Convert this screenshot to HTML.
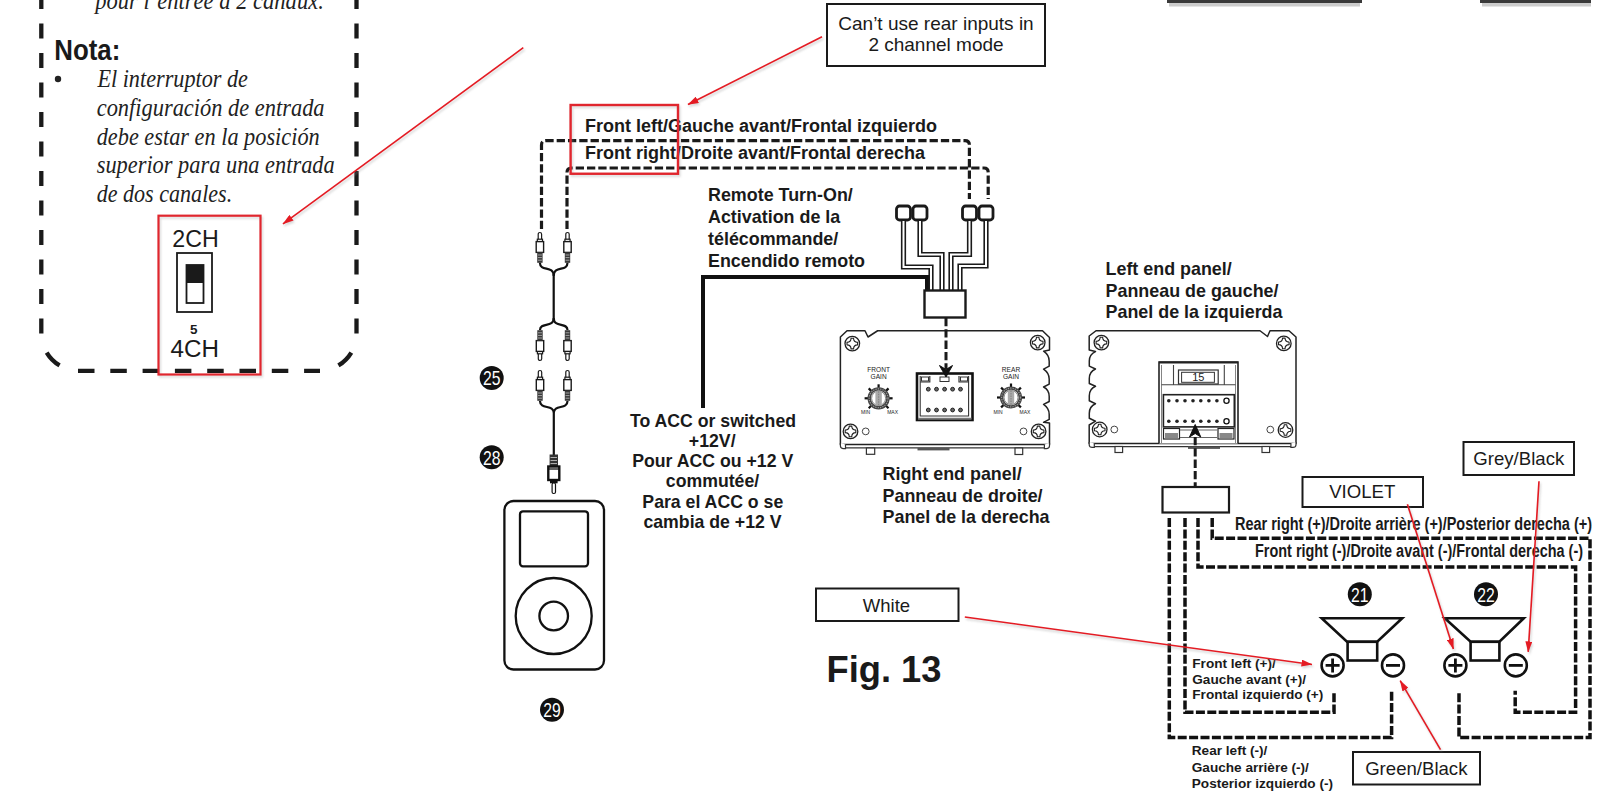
<!DOCTYPE html>
<html><head><meta charset="utf-8">
<style>
html,body{margin:0;padding:0;background:#fff;width:1600px;height:807px;overflow:hidden}
svg{display:block}
text{font-family:"Liberation Sans",sans-serif}
.b,.b text{font-weight:bold}
.si,.si text{font-family:"Liberation Serif",serif;font-style:italic}
</style></head><body>
<svg width="1600" height="807" viewBox="0 0 1600 807">
<defs>
<marker id="ah" viewBox="0 0 11 7" refX="10.5" refY="3.5" markerWidth="11" markerHeight="7" markerUnits="userSpaceOnUse" orient="auto"><path d="M0,0 L11,3.5 L0,7 z" fill="#e41b23"/></marker>
<marker id="ahs" viewBox="0 0 11 7" refX="10.5" refY="3.5" markerWidth="11" markerHeight="7" markerUnits="userSpaceOnUse" orient="auto"><path d="M0,0 L11,3.5 L0,7 z" fill="#aaa"/></marker>
<filter id="blur" x="-5%" y="-5%" width="110%" height="110%"><feGaussianBlur stdDeviation="1"/></filter>

</defs>
<rect width="1600" height="807" fill="#fff"/>

<!-- top-right cut bars -->
<rect x="1167" y="0" width="195" height="3" fill="#3a3a3a"/>
<rect x="1169" y="3" width="191" height="3.5" fill="#ccc"/>
<rect x="1480" y="0" width="111" height="3" fill="#3a3a3a"/>
<rect x="1482" y="3" width="109" height="3.5" fill="#ccc"/>

<!-- LEFT NOTE BOX -->
<g fill="none" stroke="#1a1a1a" stroke-width="4.3"><path d="M41.3,-6 L41.3,333.6 M356.5,-6 L356.5,333.6" stroke-dasharray="15 14.5"/><path d="M46.68,352.52 A37.7,37.7 0 0 0 59.58,365.42"/><path d="M351.32,352.52 A37.7,37.7 0 0 1 338.42,365.42"/><path d="M78,370.8 L320,370.8" stroke-dasharray="16.5 15.8"/></g>
<g class="si" font-size="26" fill="#222">
<text x="95.3" y="8.5" textLength="228.5" lengthAdjust="spacingAndGlyphs">pour l’entrée à 2 canaux.</text>
<text x="97.4" y="86.8" textLength="150.6" lengthAdjust="spacingAndGlyphs">El interruptor de</text>
<text x="96.7" y="115.5" textLength="227.9" lengthAdjust="spacingAndGlyphs">configuración de entrada</text>
<text x="96.7" y="144.5" textLength="223" lengthAdjust="spacingAndGlyphs">debe estar en la posición</text>
<text x="96.7" y="173" textLength="238" lengthAdjust="spacingAndGlyphs">superior para una entrada</text>
<text x="96.7" y="202" textLength="135.5" lengthAdjust="spacingAndGlyphs">de dos canales.</text>
</g>
<text class="b" x="54.3" y="59.7" font-size="28.7" textLength="66" lengthAdjust="spacingAndGlyphs" fill="#1a1a1a">Nota:</text>
<circle cx="58" cy="79" r="3.2" fill="#222"/>

<!-- 2CH switch -->
<text x="172.3" y="246.5" font-size="23.2" fill="#1a1a1a">2CH</text>
<rect x="177" y="253" width="35" height="59" fill="none" stroke="#1a1a1a" stroke-width="1.8"/>
<rect x="186.5" y="265" width="17" height="38" fill="none" stroke="#1a1a1a" stroke-width="1.8"/>
<rect x="186.5" y="265" width="17" height="18" fill="#1a1a1a"/>
<text class="b" x="190" y="333.5" font-size="13.5" fill="#1a1a1a">5</text>
<text x="170.5" y="357" font-size="24.2" fill="#1a1a1a">4CH</text>
<rect x="160" y="217.7" width="102" height="158.8" fill="none" stroke="#999" stroke-width="2.2" opacity="0.35" filter="url(#blur)"/>
<rect x="158.5" y="215.7" width="102" height="158.8" fill="none" stroke="#e0262e" stroke-width="2.2"/>

<!-- CALLOUT top -->
<rect x="827" y="4" width="218" height="62" fill="none" stroke="#1a1a1a" stroke-width="2"/>
<g font-size="19" fill="#1a1a1a" text-anchor="middle">
<text x="936" y="29.7">Can’t use rear inputs in</text>
<text x="936" y="51">2 channel mode</text>
</g>

<!-- front labels -->
<g class="b" font-size="18" fill="#1a1a1a">
<text x="585" y="131.9">Front left/Gauche avant/Frontal izquierdo</text>
<text x="585" y="159.4">Front right/Droite avant/Frontal derecha</text>
</g>
<g fill="none" stroke="#1a1a1a" stroke-width="3.2" stroke-dasharray="8.3 3">
<path d="M541.5,229 L541.5,145 Q541.5,140.6 546,140.6 L965,140.6 Q969.4,140.6 969.4,145 L969.4,199"/>
<path d="M567,229 L567,172.5 Q567,168 571.5,168 L984,168 Q988.2,168 988.2,172.5 L988.2,199"/>
</g>
<rect x="572" y="107" width="107.4" height="68.75" fill="none" stroke="#999" stroke-width="2.4" opacity="0.35" filter="url(#blur)"/>
<rect x="570.6" y="105" width="107.4" height="68.75" fill="none" stroke="#e0262e" stroke-width="2.4"/>

<!-- remote label -->
<g class="b" font-size="17.9" fill="#1a1a1a">
<text x="708" y="201.25">Remote Turn-On/</text>
<text x="708" y="223">Activation de la</text>
<text x="708" y="245">télécommande/</text>
<text x="708" y="267">Encendido remoto</text>
</g>
<path d="M703,408 L703,277 L927,277 L927,291" fill="none" stroke="#111" stroke-width="4"/>

<!-- harness squares -->
<g fill="#fff" stroke="#1a1a1a" stroke-width="2.8">
<rect x="896.5" y="206" width="14" height="14" rx="3"/>
<rect x="913" y="206" width="14" height="14" rx="3"/>
<rect x="962.5" y="206" width="14" height="14" rx="3"/>
<rect x="979" y="206" width="14" height="14" rx="3"/>
</g>
<g fill="none" stroke="#1a1a1a" stroke-width="5.2">
<path d="M903.5,221 L903.5,267 L931,267 L931,291"/>
<path d="M920,221 L920,254.5 L942,254.5 L942,291"/>
<path d="M969.5,221 L969.5,254.5 L951,254.5 L951,291"/>
<path d="M986,221 L986,266 L960,266 L960,291"/>
</g>
<g fill="none" stroke="#fff" stroke-width="2">
<path d="M903.5,221 L903.5,267 L931,267 L931,291"/>
<path d="M920,221 L920,254.5 L942,254.5 L942,291"/>
<path d="M969.5,221 L969.5,254.5 L951,254.5 L951,291"/>
<path d="M986,221 L986,266 L960,266 L960,291"/>
</g>
<rect x="924.5" y="290.5" width="41" height="27" fill="#fff" stroke="#1a1a1a" stroke-width="2.4"/>

<!-- RCA cables -->
<g transform="translate(539.9,232)">
<rect x="-1.7" y="0.5" width="3.4" height="8" rx="1.7" fill="#fff" stroke="#1a1a1a" stroke-width="1.2"/>
<rect x="-2.6" y="7.2" width="5.2" height="2.4" fill="#fff" stroke="#1a1a1a" stroke-width="1.2"/>
<rect x="-3.7" y="9.6" width="7.4" height="10.8" fill="#fff" stroke="#1a1a1a" stroke-width="1.4"/>
<rect x="-2.7" y="20.4" width="5.4" height="10.4" fill="#3a3a3a"/>
<g stroke="#bbb" stroke-width="0.8"><line x1="-2" y1="23" x2="2" y2="23"/><line x1="-2" y1="25.6" x2="2" y2="25.6"/><line x1="-2" y1="28.2" x2="2" y2="28.2"/></g>
</g>
<g transform="translate(567.5,232)">
<rect x="-1.7" y="0.5" width="3.4" height="8" rx="1.7" fill="#fff" stroke="#1a1a1a" stroke-width="1.2"/>
<rect x="-2.6" y="7.2" width="5.2" height="2.4" fill="#fff" stroke="#1a1a1a" stroke-width="1.2"/>
<rect x="-3.7" y="9.6" width="7.4" height="10.8" fill="#fff" stroke="#1a1a1a" stroke-width="1.4"/>
<rect x="-2.7" y="20.4" width="5.4" height="10.4" fill="#3a3a3a"/>
<g stroke="#bbb" stroke-width="0.8"><line x1="-2" y1="23" x2="2" y2="23"/><line x1="-2" y1="25.6" x2="2" y2="25.6"/><line x1="-2" y1="28.2" x2="2" y2="28.2"/></g>
</g>
<g transform="translate(540,361) scale(1,-1)">
<rect x="-1.7" y="0.5" width="3.4" height="8" rx="1.7" fill="#fff" stroke="#1a1a1a" stroke-width="1.2"/>
<rect x="-2.6" y="7.2" width="5.2" height="2.4" fill="#fff" stroke="#1a1a1a" stroke-width="1.2"/>
<rect x="-3.7" y="9.6" width="7.4" height="10.8" fill="#fff" stroke="#1a1a1a" stroke-width="1.4"/>
<rect x="-2.7" y="20.4" width="5.4" height="10.4" fill="#3a3a3a"/>
<g stroke="#bbb" stroke-width="0.8"><line x1="-2" y1="23" x2="2" y2="23"/><line x1="-2" y1="25.6" x2="2" y2="25.6"/><line x1="-2" y1="28.2" x2="2" y2="28.2"/></g>
</g>
<g transform="translate(567.5,361) scale(1,-1)">
<rect x="-1.7" y="0.5" width="3.4" height="8" rx="1.7" fill="#fff" stroke="#1a1a1a" stroke-width="1.2"/>
<rect x="-2.6" y="7.2" width="5.2" height="2.4" fill="#fff" stroke="#1a1a1a" stroke-width="1.2"/>
<rect x="-3.7" y="9.6" width="7.4" height="10.8" fill="#fff" stroke="#1a1a1a" stroke-width="1.4"/>
<rect x="-2.7" y="20.4" width="5.4" height="10.4" fill="#3a3a3a"/>
<g stroke="#bbb" stroke-width="0.8"><line x1="-2" y1="23" x2="2" y2="23"/><line x1="-2" y1="25.6" x2="2" y2="25.6"/><line x1="-2" y1="28.2" x2="2" y2="28.2"/></g>
</g>
<g transform="translate(540,370)">
<rect x="-1.7" y="0.5" width="3.4" height="8" rx="1.7" fill="#fff" stroke="#1a1a1a" stroke-width="1.2"/>
<rect x="-2.6" y="7.2" width="5.2" height="2.4" fill="#fff" stroke="#1a1a1a" stroke-width="1.2"/>
<rect x="-3.7" y="9.6" width="7.4" height="10.8" fill="#fff" stroke="#1a1a1a" stroke-width="1.4"/>
<rect x="-2.7" y="20.4" width="5.4" height="10.4" fill="#3a3a3a"/>
<g stroke="#bbb" stroke-width="0.8"><line x1="-2" y1="23" x2="2" y2="23"/><line x1="-2" y1="25.6" x2="2" y2="25.6"/><line x1="-2" y1="28.2" x2="2" y2="28.2"/></g>
</g>
<g transform="translate(567.5,370)">
<rect x="-1.7" y="0.5" width="3.4" height="8" rx="1.7" fill="#fff" stroke="#1a1a1a" stroke-width="1.2"/>
<rect x="-2.6" y="7.2" width="5.2" height="2.4" fill="#fff" stroke="#1a1a1a" stroke-width="1.2"/>
<rect x="-3.7" y="9.6" width="7.4" height="10.8" fill="#fff" stroke="#1a1a1a" stroke-width="1.4"/>
<rect x="-2.7" y="20.4" width="5.4" height="10.4" fill="#3a3a3a"/>
<g stroke="#bbb" stroke-width="0.8"><line x1="-2" y1="23" x2="2" y2="23"/><line x1="-2" y1="25.6" x2="2" y2="25.6"/><line x1="-2" y1="28.2" x2="2" y2="28.2"/></g>
</g>
<g fill="none" stroke="#111" stroke-width="2.2">
<path d="M539.9,262.8 C540,272 553.7,265 553.7,276 L553.7,318 C553.7,328 540,322 540,330"/>
<path d="M567.5,262.8 C567.5,272 553.7,265 553.7,276 M553.7,318 C553.7,328 567.5,322 567.5,330"/>
<path d="M540,401 C540,410 553.8,404 553.8,413 L553.8,455 M567.5,401 C567.5,410 553.8,404 553.8,413"/>
</g>
<!-- 3.5mm plug -->
<rect x="549.6" y="454.5" width="8.4" height="11.5" fill="#333"/>
<g stroke="#bbb" stroke-width="0.9"><line x1="550.5" y1="457.5" x2="557" y2="457.5"/><line x1="550.5" y1="460.5" x2="557" y2="460.5"/><line x1="550.5" y1="463.5" x2="557" y2="463.5"/></g>
<rect x="548.3" y="466.5" width="11" height="13.5" fill="#fff" stroke="#111" stroke-width="2.4"/>
<line x1="548.5" y1="469" x2="559" y2="469" stroke="#111" stroke-width="1.3"/>
<rect x="550" y="480.5" width="7.6" height="2.8" fill="#111"/>
<rect x="552.1" y="483" width="3.4" height="10.5" rx="1.5" fill="#fff" stroke="#111" stroke-width="1.2"/>

<!-- iPod -->
<rect x="504.4" y="501" width="99.6" height="168.5" rx="9" fill="none" stroke="#111" stroke-width="2.3"/>
<rect x="520" y="511.3" width="68" height="55" rx="3" fill="none" stroke="#111" stroke-width="2.3"/>
<circle cx="553.7" cy="616" r="38" fill="none" stroke="#111" stroke-width="2.3"/>
<circle cx="553.7" cy="616" r="14.3" fill="none" stroke="#111" stroke-width="2.3"/>

<!-- number badges -->
<g font-size="21" fill="#fff" text-anchor="middle">
<circle cx="491.7" cy="377.9" r="12" fill="#111"/><text x="491.7" y="385.2" textLength="17.5" lengthAdjust="spacingAndGlyphs">25</text>
<circle cx="491.7" cy="457.2" r="12" fill="#111"/><text x="491.7" y="464.5" textLength="17.5" lengthAdjust="spacingAndGlyphs">28</text>
<circle cx="552" cy="709.7" r="12" fill="#111"/><text x="552" y="717.0" textLength="17.5" lengthAdjust="spacingAndGlyphs">29</text>
<circle cx="1359.8" cy="594.3" r="12" fill="#111"/><text x="1359.8" y="601.5999999999999" textLength="17.5" lengthAdjust="spacingAndGlyphs">21</text>
<circle cx="1486" cy="594.3" r="12" fill="#111"/><text x="1486" y="601.5999999999999" textLength="17.5" lengthAdjust="spacingAndGlyphs">22</text>
</g>

<!-- ACC label -->
<g class="b" font-size="17.7" fill="#1a1a1a" text-anchor="middle">
<text x="713" y="426.9">To ACC or switched</text>
<text x="712.2" y="446.8">+12V/</text>
<text x="712.7" y="467.3">Pour ACC ou +12 V</text>
<text x="712.5" y="486.7">commutée/</text>
<text x="712.8" y="507.5">Para el ACC o se</text>
<text x="712.5" y="527.5">cambia de +12 V</text>
</g>

<!-- panel labels -->
<g class="b" font-size="17.9" fill="#1a1a1a">
<text x="882.5" y="480">Right end panel/</text>
<text x="882.5" y="501.5">Panneau de droite/</text>
<text x="882.5" y="523">Panel de la derecha</text>
<text x="1105.5" y="274.75">Left end panel/</text>
<text x="1105.5" y="296.5">Panneau de gauche/</text>
<text x="1105.5" y="318">Panel de la izquierda</text>
</g>

<!-- White box + Fig -->
<rect x="816" y="588.5" width="142.5" height="32.5" fill="none" stroke="#1a1a1a" stroke-width="2"/>
<text x="886.5" y="612.4" font-size="18.5" fill="#1a1a1a" text-anchor="middle">White</text>
<text class="b" x="826.5" y="682" font-size="36.3" fill="#1a1a1a">Fig. 13</text>

<!-- PANELS -->
<path d="M847,330.75 L865,330.75 L868,337 L877.6,330.75 L1042.5,330.75 L1049.5,337.5 L1049.5,350 L1043.6,351.2 C1046.5,353.2 1049.2,356.2 1049.2,361.2 L1049.2,366.2 L1043.6,369.09999999999997 C1046.5,371.1 1049.2,374.1 1049.2,379.1 L1049.2,384.1 L1043.6,387.0 C1046.5,388.5 1049.2,391.5 1049.2,396.5 L1049.2,401.5 L1043.6,404.4 C1046.5,406.4 1049.2,409.4 1049.2,414.4 L1049.2,419.4 L1043.6,422.29999999999995 L1049.5,423 L1049.5,444.5 L840.4,444.5 L840.4,337 Z" fill="#fff" stroke="#222" stroke-width="1.5" stroke-linejoin="round"/>
<line x1="845" y1="447.8" x2="1045" y2="447.8" stroke="#333" stroke-width="1.3"/>
<path d="M840.4,443 L840.4,446 Q840.6,448.6 843.5,448.6 L845.5,448.6 L845.5,444.5" fill="#fff" stroke="#333" stroke-width="1.2"/>
<path d="M1049.5,443 L1049.5,446 Q1049.3,448.6 1046.4,448.6 L1044.4,448.6 L1044.4,444.5" fill="#fff" stroke="#333" stroke-width="1.2"/>
<rect x="866.4" y="448" width="8.3" height="6.3" fill="#fff" stroke="#333" stroke-width="1.2"/>
<rect x="1015" y="448" width="7.7" height="6.5" fill="#fff" stroke="#333" stroke-width="1.2"/>
<rect x="917.5" y="448" width="32" height="2.4" fill="#555"/>
<circle cx="852.3" cy="343.6" r="7.3" fill="#fff" stroke="#222" stroke-width="1.3"/><path d="M851.05,338.30 L853.55,338.30 Q853.60,342.30 857.60,342.35 L857.60,344.85 Q853.60,344.90 853.55,348.90 L851.05,348.90 Q851.00,344.90 847.00,344.85 L847.00,342.35 Q851.00,342.30 851.05,338.30 Z" fill="#fff" stroke="#222" stroke-width="1.1" stroke-linejoin="round"/>
<circle cx="1037.7" cy="342.6" r="7.3" fill="#fff" stroke="#222" stroke-width="1.3"/><path d="M1036.45,337.30 L1038.95,337.30 Q1039.00,341.30 1043.00,341.35 L1043.00,343.85 Q1039.00,343.90 1038.95,347.90 L1036.45,347.90 Q1036.40,343.90 1032.40,343.85 L1032.40,341.35 Q1036.40,341.30 1036.45,337.30 Z" fill="#fff" stroke="#222" stroke-width="1.1" stroke-linejoin="round"/>
<circle cx="850.5" cy="431.4" r="7.3" fill="#fff" stroke="#222" stroke-width="1.3"/><path d="M849.25,426.10 L851.75,426.10 Q851.80,430.10 855.80,430.15 L855.80,432.65 Q851.80,432.70 851.75,436.70 L849.25,436.70 Q849.20,432.70 845.20,432.65 L845.20,430.15 Q849.20,430.10 849.25,426.10 Z" fill="#fff" stroke="#222" stroke-width="1.1" stroke-linejoin="round"/>
<circle cx="1038.6" cy="431.4" r="7.3" fill="#fff" stroke="#222" stroke-width="1.3"/><path d="M1037.35,426.10 L1039.85,426.10 Q1039.90,430.10 1043.90,430.15 L1043.90,432.65 Q1039.90,432.70 1039.85,436.70 L1037.35,436.70 Q1037.30,432.70 1033.30,432.65 L1033.30,430.15 Q1037.30,430.10 1037.35,426.10 Z" fill="#fff" stroke="#222" stroke-width="1.1" stroke-linejoin="round"/>
<circle cx="865.7" cy="431.4" r="3.4" fill="#fff" stroke="#444" stroke-width="1"/>
<circle cx="1023.5" cy="431.4" r="3.4" fill="#fff" stroke="#444" stroke-width="1"/>
<line x1="878.60" y1="387.80" x2="878.60" y2="384.30" stroke="#111" stroke-width="2.2"/><line x1="886.02" y1="390.88" x2="888.50" y2="388.40" stroke="#111" stroke-width="2.2"/><line x1="871.18" y1="390.88" x2="868.70" y2="388.40" stroke="#111" stroke-width="2.2"/><line x1="889.10" y1="398.30" x2="892.60" y2="398.30" stroke="#111" stroke-width="2.2"/><line x1="868.10" y1="398.30" x2="864.60" y2="398.30" stroke="#111" stroke-width="2.2"/><line x1="886.02" y1="405.72" x2="888.50" y2="408.20" stroke="#111" stroke-width="2.2"/><line x1="871.18" y1="405.72" x2="868.70" y2="408.20" stroke="#111" stroke-width="2.2"/><circle cx="878.6" cy="398.3" r="9.4" fill="#fff" stroke="#444" stroke-width="3.4"/><circle cx="878.6" cy="398.3" r="9.4" fill="none" stroke="#999" stroke-width="1.2" stroke-dasharray="1.2 1.2"/><ellipse cx="878.6" cy="398.3" rx="7" ry="7.2" fill="#fff" stroke="#666" stroke-width="0.8"/><rect x="875.4" y="391.3" width="6.4" height="14" fill="#aaa"/><line x1="878.6" y1="391.3" x2="878.6" y2="405.3" stroke="#888" stroke-width="1.2" stroke-dasharray="1.5 1"/><g font-size="6.6" fill="#222" text-anchor="middle"><text x="878.6" y="372.3">FRONT</text><text x="878.6" y="379.3">GAIN</text><text x="865.6" y="414.3" font-size="5">MIN</text><text x="892.6" y="414.3" font-size="5">MAX</text></g>
<line x1="1011.00" y1="387.00" x2="1011.00" y2="383.50" stroke="#111" stroke-width="2.2"/><line x1="1018.42" y1="390.08" x2="1020.90" y2="387.60" stroke="#111" stroke-width="2.2"/><line x1="1003.58" y1="390.08" x2="1001.10" y2="387.60" stroke="#111" stroke-width="2.2"/><line x1="1021.50" y1="397.50" x2="1025.00" y2="397.50" stroke="#111" stroke-width="2.2"/><line x1="1000.50" y1="397.50" x2="997.00" y2="397.50" stroke="#111" stroke-width="2.2"/><line x1="1018.42" y1="404.92" x2="1020.90" y2="407.40" stroke="#111" stroke-width="2.2"/><line x1="1003.58" y1="404.92" x2="1001.10" y2="407.40" stroke="#111" stroke-width="2.2"/><circle cx="1011" cy="397.5" r="9.4" fill="#fff" stroke="#444" stroke-width="3.4"/><circle cx="1011" cy="397.5" r="9.4" fill="none" stroke="#999" stroke-width="1.2" stroke-dasharray="1.2 1.2"/><ellipse cx="1011" cy="397.5" rx="7" ry="7.2" fill="#fff" stroke="#666" stroke-width="0.8"/><rect x="1007.8" y="390.5" width="6.4" height="14" fill="#aaa"/><line x1="1011" y1="390.5" x2="1011" y2="404.5" stroke="#888" stroke-width="1.2" stroke-dasharray="1.5 1"/><g font-size="6.6" fill="#222" text-anchor="middle"><text x="1011" y="371.5">REAR</text><text x="1011" y="378.5">GAIN</text><text x="998" y="413.5" font-size="5">MIN</text><text x="1025" y="413.5" font-size="5">MAX</text></g>
<rect x="917" y="373.5" width="55.5" height="46.5" fill="#fff" stroke="#111" stroke-width="2.6"/>
<path d="M920.2,376 L920.2,416 L968.6,416 L968.6,376" fill="none" stroke="#333" stroke-width="1.1"/>
<line x1="918" y1="418.8" x2="971.5" y2="418.8" stroke="#777" stroke-width="2"/>
<path d="M920.2,382 L929.8,382 L929.8,376 M968.6,382 L959,382 L959,376" fill="none" stroke="#333" stroke-width="1.2"/>
<rect x="921.5" y="377" width="7" height="4" fill="none" stroke="#333" stroke-width="1"/>
<rect x="960.5" y="377" width="7" height="4" fill="none" stroke="#333" stroke-width="1"/>
<rect x="940" y="377" width="9" height="4.5" fill="none" stroke="#333" stroke-width="1"/>
<circle cx="928.3" cy="389.2" r="1.9" fill="#666" stroke="#222" stroke-width="1"/>
<circle cx="928.3" cy="410" r="1.9" fill="#666" stroke="#222" stroke-width="1"/>
<circle cx="936.5" cy="389.2" r="1.9" fill="#666" stroke="#222" stroke-width="1"/>
<circle cx="936.5" cy="410" r="1.9" fill="#666" stroke="#222" stroke-width="1"/>
<circle cx="944.6" cy="389.2" r="1.9" fill="#666" stroke="#222" stroke-width="1"/>
<circle cx="944.6" cy="410" r="1.9" fill="#666" stroke="#222" stroke-width="1"/>
<circle cx="952.6" cy="389.2" r="1.9" fill="#666" stroke="#222" stroke-width="1"/>
<circle cx="952.6" cy="410" r="1.9" fill="#666" stroke="#222" stroke-width="1"/>
<circle cx="960.5" cy="389.2" r="1.9" fill="#666" stroke="#222" stroke-width="1"/>
<circle cx="960.5" cy="410" r="1.9" fill="#666" stroke="#222" stroke-width="1"/>
<path d="M946,377 L939.5,365.5 L946,369.5 L952.5,365.5 Z" fill="#111" stroke="#111" stroke-width="1"/>
<path d="M1096,330.75 L1260,330.75 L1267.5,336.5 L1270,330.75 L1289,330.75 L1296,337 L1296,443.5 L1089.2,443.5 L1089.2,425 L1095.5,421.2 L1089.3,418.2 L1089.3,413.2 C1089.3,408.2 1092,405.2 1095.5,403.7 L1089.3,400.8 L1089.3,395.8 C1089.3,390.8 1092,387.8 1095.5,386.3 L1089.3,383.5 L1089.3,378.5 C1089.3,373.5 1092,370.5 1095.5,369.0 L1089.3,366.1 L1089.3,361.1 C1089.3,356.1 1092,353.1 1095.5,351.6 L1089.2,350 L1089.2,350 L1089.2,336 Z" fill="#fff" stroke="#222" stroke-width="1.5" stroke-linejoin="round"/>
<line x1="1094" y1="446.6" x2="1291" y2="446.6" stroke="#333" stroke-width="1.3"/>
<path d="M1089.2,442 L1089.2,445 Q1089.4,447.4 1092.3,447.4 L1094.3,447.4 L1094.3,443.5" fill="#fff" stroke="#333" stroke-width="1.2"/>
<path d="M1296,442 L1296,445 Q1295.8,447.4 1292.9,447.4 L1290.9,447.4 L1290.9,443.5" fill="#fff" stroke="#333" stroke-width="1.2"/>
<rect x="1115" y="446.5" width="7.6" height="6" fill="#fff" stroke="#333" stroke-width="1.2"/>
<rect x="1262" y="446.5" width="7.6" height="6" fill="#fff" stroke="#333" stroke-width="1.2"/>
<rect x="1188" y="446.5" width="32" height="2.4" fill="#555"/>
<circle cx="1101.4" cy="342.6" r="7.3" fill="#fff" stroke="#222" stroke-width="1.3"/><path d="M1100.15,337.30 L1102.65,337.30 Q1102.70,341.30 1106.70,341.35 L1106.70,343.85 Q1102.70,343.90 1102.65,347.90 L1100.15,347.90 Q1100.10,343.90 1096.10,343.85 L1096.10,341.35 Q1100.10,341.30 1100.15,337.30 Z" fill="#fff" stroke="#222" stroke-width="1.1" stroke-linejoin="round"/>
<circle cx="1283.8" cy="343.4" r="7.3" fill="#fff" stroke="#222" stroke-width="1.3"/><path d="M1282.55,338.10 L1285.05,338.10 Q1285.10,342.10 1289.10,342.15 L1289.10,344.65 Q1285.10,344.70 1285.05,348.70 L1282.55,348.70 Q1282.50,344.70 1278.50,344.65 L1278.50,342.15 Q1282.50,342.10 1282.55,338.10 Z" fill="#fff" stroke="#222" stroke-width="1.1" stroke-linejoin="round"/>
<circle cx="1099.7" cy="429.5" r="7.3" fill="#fff" stroke="#222" stroke-width="1.3"/><path d="M1098.45,424.20 L1100.95,424.20 Q1101.00,428.20 1105.00,428.25 L1105.00,430.75 Q1101.00,430.80 1100.95,434.80 L1098.45,434.80 Q1098.40,430.80 1094.40,430.75 L1094.40,428.25 Q1098.40,428.20 1098.45,424.20 Z" fill="#fff" stroke="#222" stroke-width="1.1" stroke-linejoin="round"/>
<circle cx="1285.5" cy="430" r="7.3" fill="#fff" stroke="#222" stroke-width="1.3"/><path d="M1284.25,424.70 L1286.75,424.70 Q1286.80,428.70 1290.80,428.75 L1290.80,431.25 Q1286.80,431.30 1286.75,435.30 L1284.25,435.30 Q1284.20,431.30 1280.20,431.25 L1280.20,428.75 Q1284.20,428.70 1284.25,424.70 Z" fill="#fff" stroke="#222" stroke-width="1.1" stroke-linejoin="round"/>
<circle cx="1114.3" cy="429.5" r="3.4" fill="#fff" stroke="#444" stroke-width="1"/>
<circle cx="1270.3" cy="429.6" r="3.4" fill="#fff" stroke="#444" stroke-width="1"/>
<path d="M1159,443.5 L1159,362 L1238,362 L1238,443.5" fill="#fff" stroke="#222" stroke-width="1.6"/>
<line x1="1159" y1="362.4" x2="1238" y2="362.4" stroke="#222" stroke-width="2"/>
<path d="M1161.5,365 L1161.5,443 M1235.5,365 L1235.5,443" fill="none" stroke="#777" stroke-width="0.9"/>
<path d="M1173.5,365 L1173.5,384.7 M1224.3,365 L1224.3,384.7 M1161.5,384.7 L1235.5,384.7" fill="none" stroke="#444" stroke-width="1.1"/>
<rect x="1178.5" y="370" width="39.7" height="14" fill="#fff" stroke="#333" stroke-width="1.2"/>
<rect x="1181.6" y="372.3" width="32.8" height="10" fill="#fff" stroke="#333" stroke-width="1"/>
<text x="1198.3" y="381.3" font-size="11" fill="#222" text-anchor="middle">15</text>
<rect x="1163.4" y="394.7" width="70.9" height="32.2" fill="#fff" stroke="#222" stroke-width="1.6"/>
<circle cx="1168.8" cy="400.8" r="1.8" fill="#222"/>
<circle cx="1168.8" cy="421.3" r="1.8" fill="#222"/>
<circle cx="1177" cy="400.8" r="1.8" fill="#222"/>
<circle cx="1177" cy="421.3" r="1.8" fill="#222"/>
<circle cx="1185" cy="400.8" r="1.8" fill="#222"/>
<circle cx="1185" cy="421.3" r="1.8" fill="#222"/>
<circle cx="1193" cy="400.8" r="1.8" fill="#222"/>
<circle cx="1193" cy="421.3" r="1.8" fill="#222"/>
<circle cx="1200.8" cy="400.8" r="1.8" fill="#222"/>
<circle cx="1200.8" cy="421.3" r="1.8" fill="#222"/>
<circle cx="1208.9" cy="400.8" r="1.8" fill="#222"/>
<circle cx="1208.9" cy="421.3" r="1.8" fill="#222"/>
<circle cx="1216.9" cy="400.8" r="1.8" fill="#222"/>
<circle cx="1216.9" cy="421.3" r="1.8" fill="#222"/>
<circle cx="1226.5" cy="400.8" r="2.6" fill="#fff" stroke="#111" stroke-width="1.3"/>
<circle cx="1226.5" cy="421.3" r="2.6" fill="#fff" stroke="#111" stroke-width="1.3"/>
<rect x="1163.5" y="428.5" width="16" height="10.5" fill="#fff" stroke="#222" stroke-width="1.2"/><rect x="1165" y="433" width="13" height="5" fill="#888"/>
<rect x="1218" y="428.5" width="16" height="10.5" fill="#fff" stroke="#222" stroke-width="1.2"/><rect x="1219.5" y="433" width="13" height="5" fill="#888"/>
<path d="M1180,430 L1217,430 M1180,437.5 L1217,437.5" stroke="#666" stroke-width="1"/>
<path d="M1195.2,424.5 L1189.5,437 L1195.2,433.5 L1200.8,437 Z" fill="#111" stroke="#111" stroke-width="1"/>
<!-- /PANELS -->

<line x1="946" y1="318" x2="946" y2="369" stroke="#1a1a1a" stroke-width="3" stroke-dasharray="8.3 3"/>
<line x1="1195.2" y1="437" x2="1195.2" y2="486" stroke="#1a1a1a" stroke-width="3" stroke-dasharray="8.3 3"/>

<!-- speaker wiring -->
<rect x="1162.5" y="487" width="66.5" height="25.5" fill="#fff" stroke="#1a1a1a" stroke-width="2.2"/>
<g fill="none" stroke="#111" stroke-width="3.5" stroke-dasharray="9 2.4">
<path d="M1169.3,518 L1169.3,737.6 L1391.6,737.6 L1391.6,690.7"/>
<path d="M1185,518 L1185,712.3 L1334,712.3 L1334,690.7"/>
<path d="M1198,518 L1198,567 L1575.6,567 L1575.6,712.3 L1515.2,712.3 L1515.2,690.7"/>
<path d="M1212.2,518 L1212.2,538.3 L1590,538.3 L1590,737.6 L1459,737.6 L1459,690.7"/>
</g>
<g class="b" font-size="19.2" fill="#1a1a1a">
<text x="1235" y="529.5" textLength="357" lengthAdjust="spacingAndGlyphs">Rear right (+)/Droite arrière (+)/Posterior derecha (+)</text>
<text x="1255" y="556.8" textLength="328" lengthAdjust="spacingAndGlyphs">Front right (-)/Droite avant (-)/Frontal derecha (-)</text>
</g>
<g class="b" font-size="13.6" fill="#1a1a1a">
<text x="1192.3" y="667.7">Front left (+)/</text>
<text x="1192.3" y="683.5">Gauche avant (+)/</text>
<text x="1192.3" y="699.3">Frontal izquierdo (+)</text>
<text x="1191.8" y="755.4">Rear left (-)/</text>
<text x="1191.8" y="772">Gauche arrière (-)/</text>
<text x="1191.8" y="787.6">Posterior izquierdo (-)</text>
</g>
<!-- speakers -->
<g fill="#fff" stroke="#111" stroke-width="2.6" stroke-linejoin="miter">
<path d="M1321.7,618.2 L1402.2,618.2 L1377.2,641.8 L1347,641.8 Z"/>
<rect x="1347.6" y="641.8" width="29.6" height="18.7"/>
<path d="M1444.8,618.2 L1523.8,618.2 L1499.4,641.8 L1470.6,641.8 Z"/>
<rect x="1470.6" y="641.8" width="28.8" height="18.7"/>
<circle cx="1332.6" cy="665.4" r="11"/>
<circle cx="1393" cy="665.4" r="11"/>
<circle cx="1455.4" cy="665.4" r="11"/>
<circle cx="1515.8" cy="665.4" r="11"/>
</g>
<g stroke="#111" stroke-width="2.8">
<path d="M1325.6,665.4 L1339.6,665.4 M1332.6,658.4 L1332.6,672.4"/>
<path d="M1386,665.4 L1400,665.4"/>
<path d="M1448.4,665.4 L1462.4,665.4 M1455.4,658.4 L1455.4,672.4"/>
<path d="M1508.8,665.4 L1522.8,665.4"/>
</g>
<!-- color label boxes -->
<g fill="#fff" stroke="#1a1a1a" stroke-width="2">
<rect x="1302.5" y="477" width="120.5" height="30"/>
<rect x="1463.5" y="442" width="110.5" height="33"/>
<rect x="1353" y="752" width="127" height="32.5"/>
</g>
<g font-size="18.6" fill="#1a1a1a" text-anchor="middle">
<text x="1362.2" y="498">VIOLET</text>
<text x="1518.8" y="465.4">Grey/Black</text>
<text x="1416.3" y="775">Green/Black</text>
</g>

<!-- red arrows -->
<g stroke="#999" stroke-width="1.6" marker-end="url(#ahs)" opacity="0.45" filter="url(#blur)" transform="translate(1.2,2)">
<line x1="523.3" y1="47.7" x2="283" y2="223.9"/>
<line x1="822" y1="36.8" x2="688" y2="104.5"/>
<line x1="964.8" y1="617" x2="1312" y2="664.5"/>
<line x1="1440.5" y1="749.6" x2="1400.2" y2="680.6"/>
<line x1="1407.4" y1="504.2" x2="1453.4" y2="649"/>
<line x1="1539" y1="481.2" x2="1528.2" y2="651.9"/>
</g>
<g stroke="#e41b23" stroke-width="1.6" marker-end="url(#ah)">
<line x1="523.3" y1="47.7" x2="283" y2="223.9"/>
<line x1="822" y1="36.8" x2="688" y2="104.5"/>
<line x1="964.8" y1="617" x2="1312" y2="664.5"/>
<line x1="1440.5" y1="749.6" x2="1400.2" y2="680.6"/>
<line x1="1407.4" y1="504.2" x2="1453.4" y2="649"/>
<line x1="1539" y1="481.2" x2="1528.2" y2="651.9"/>
</g>
</svg>
</body></html>
